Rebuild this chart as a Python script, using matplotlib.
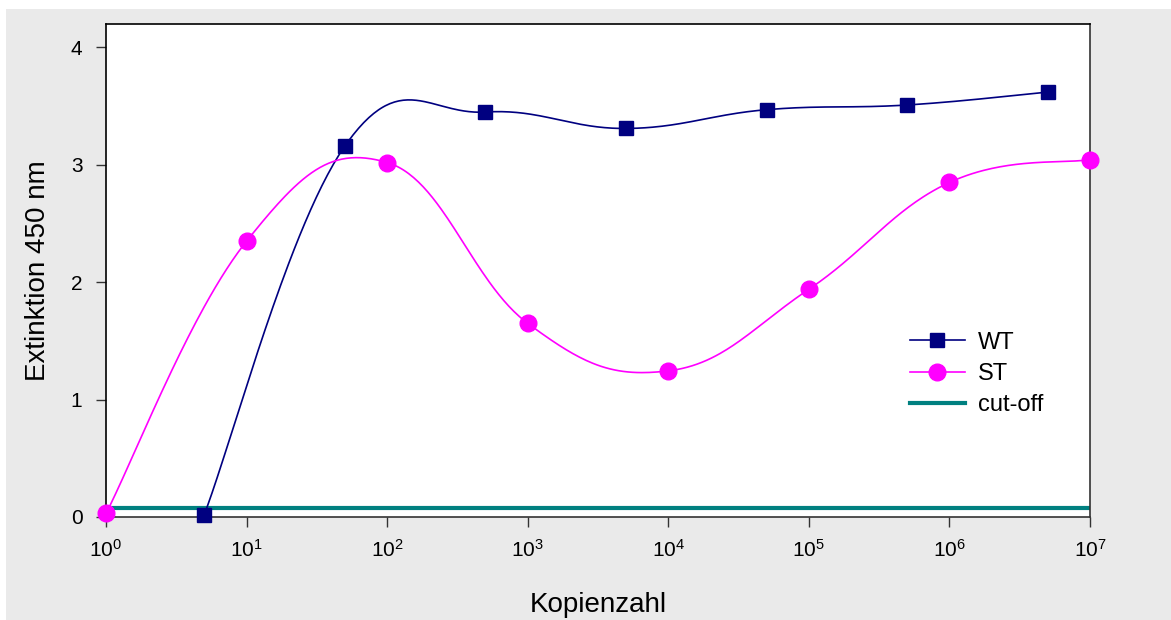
import numpy as np
import matplotlib.pyplot as plt
from matplotlib.patches import Rectangle

plt.rcParams['font.family'] = ['Liberation Sans', 'DejaVu Sans']

# data
wt_x = [5, 50, 500, 5000, 50000, 500000, 5000000]
wt_y = [0.02, 3.16, 3.45, 3.31, 3.47, 3.51, 3.62]
st_x = [1, 10, 100, 1000, 10000, 100000, 1000000, 10000000]
st_y = [0.03, 2.35, 3.02, 1.65, 1.245, 1.94, 2.85, 3.045]
cutoff_x = [1, 10000000]
cutoff_y = [0.075, 0.075]

# rough pixel scale of one decade / one unit, used for the smoothing only
PX_DECADE = 140.6
PX_UNIT = 117.25


def smooth(xs, ys, n=60, k=5.0):
    # Catmull-Rom style bezier through the points, like Excel's smoothed line
    u = np.log10(xs) * PX_DECADE
    v = np.asarray(ys) * PX_UNIT
    pts = np.column_stack([u, v])
    out = []
    for i in range(len(pts) - 1):
        p0 = pts[i - 1] if i > 0 else pts[i]
        p1 = pts[i]
        p2 = pts[i + 1]
        p3 = pts[i + 2] if i + 2 < len(pts) else pts[i + 1]
        c1 = p1 + (p2 - p0) / k
        c2 = p2 - (p3 - p1) / k
        t = np.linspace(0, 1, n)[:, None]
        seg = ((1 - t) ** 3 * p1 + 3 * (1 - t) ** 2 * t * c1
               + 3 * (1 - t) * t ** 2 * c2 + t ** 3 * p2)
        out.append(seg if i == 0 else seg[1:])
    out = np.vstack(out)
    return 10 ** (out[:, 0] / PX_DECADE), out[:, 1] / PX_UNIT


fig = plt.figure(figsize=(11.71, 6.2), dpi=100)
fig.patches.append(Rectangle((6 / 1171, 0), 1 - 6 / 1171, 1 - 9 / 620,
                             transform=fig.transFigure, facecolor='#eaeaea',
                             edgecolor='none', zorder=-10))
ax = fig.add_axes([106 / 1171, 1 - 517 / 620, 984 / 1171, 493 / 620])
ax.set_facecolor('white')

navy = '#000080'
magenta = '#ff00ff'
teal = '#008080'

ax.plot(cutoff_x, cutoff_y, color=teal, lw=3, label='cut-off', zorder=2)
sx, sy = smooth(wt_x, wt_y)
ax.plot(sx, sy, color=navy, lw=1.2, zorder=3)
ax.plot(wt_x, wt_y, 's', color=navy, ms=10, zorder=4, clip_on=False)
sx, sy = smooth(st_x, st_y)
ax.plot(sx, sy, color=magenta, lw=1.2, zorder=3)
ax.plot(st_x, st_y, 'o', color=magenta, ms=12, zorder=4, clip_on=False)

ax.set_xscale('log')
ax.set_xlim(1, 1e7)
ax.set_ylim(0, 4.2)
ax.set_yticks([0, 1, 2, 3, 4])
ax.set_xticks([10 ** k for k in range(8)])
ax.xaxis.set_minor_locator(plt.NullLocator())
ax.tick_params(direction='out', length=7, width=1, labelsize=15,
               color='#333333')
ax.tick_params(axis='x', pad=9)
ax.tick_params(axis='y', pad=10)
for s in ax.spines.values():
    s.set_color('#333333')
    s.set_linewidth(1.2)
ax.spines['top'].set_color('black')
ax.spines['left'].set_color('black')

ax.set_xlabel('Kopienzahl', fontsize=20, labelpad=22)
ax.set_ylabel('Extinktion 450 nm', fontsize=20, labelpad=14)

h_wt = plt.Line2D([], [], color=navy, marker='s', ms=10, lw=1.2)
h_st = plt.Line2D([], [], color=magenta, marker='o', ms=12, lw=1.2)
h_cut = plt.Line2D([], [], color=teal, lw=3)
ax.legend([h_wt, h_st, h_cut], ['WT', 'ST', 'cut-off'], frameon=False,
          fontsize=17, loc='center left', bbox_to_anchor=(0.807, 0.29),
          borderaxespad=0, handlelength=2.33, handletextpad=0.55,
          labelspacing=0.4)

fig.savefig('out.png', dpi=100)
